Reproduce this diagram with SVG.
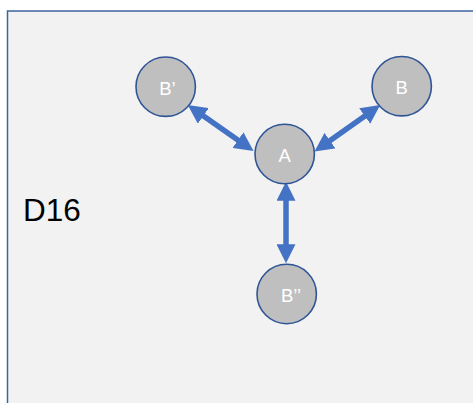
<svg xmlns="http://www.w3.org/2000/svg" width="473" height="403" viewBox="0 0 473 403">
<style>
.node circle{fill:#bfbfbf;stroke:#2f5597;stroke-width:1.6}
.node text{fill:#ffffff;font-family:"Liberation Sans",Arial,sans-serif;font-size:18.5px;text-anchor:middle}
.conn line{stroke:#4472c4;stroke-width:5.5;marker-start:url(#ah);marker-end:url(#ah)}
</style>
<defs>
<marker id="ah" markerUnits="userSpaceOnUse" markerWidth="19" markerHeight="19" viewBox="0 0 18 18" refX="8" refY="9" orient="auto-start-reverse">
<path d="M0,0 L18,9 L0,18 z" fill="#4472c4"/>
</marker>
</defs>
<rect x="0" y="0" width="473" height="403" fill="#ffffff"/>
<rect x="7.5" y="11" width="480" height="410" fill="#f2f2f2" stroke="#3e63a0" stroke-width="1.5"/>
<text x="23" y="221" font-family="Liberation Sans,Arial,sans-serif" font-size="31.5" fill="#000000">D16</text>
<g class="conn">
<line x1="196.4" y1="111.1" x2="244.9" y2="144.9"/>
<line x1="371.6" y1="111.2" x2="323.1" y2="145.5"/>
<line x1="286" y1="192.3" x2="286" y2="252.7"/>
</g>
<g id="nodeBp" class="node"><circle cx="165.7" cy="86.7" r="29.7"/><text x="167.5" y="94.5">B’</text></g>
<g id="nodeB" class="node"><circle cx="401.7" cy="86.2" r="29.7"/><text x="401.7" y="93.5">B</text></g>
<g id="nodeA" class="node"><circle cx="284.7" cy="154" r="29.7"/><text x="284.7" y="161.5">A</text></g>
<g id="nodeBpp" class="node"><circle cx="286.7" cy="294" r="29.7"/><text x="291" y="301.5">B’’</text></g>
</svg>
